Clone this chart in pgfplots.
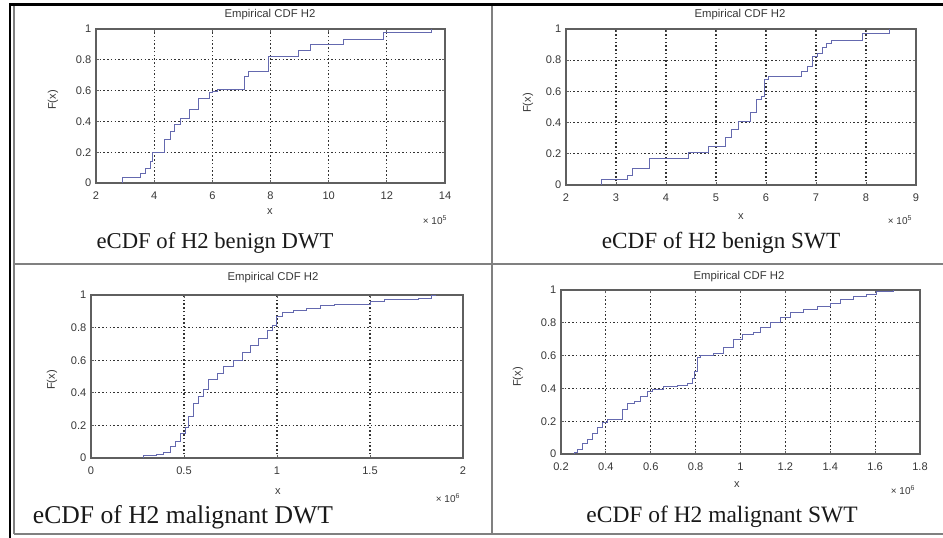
\documentclass[border=0pt]{standalone}
\usepackage{pgfplots}
\pgfplotsset{compat=1.18}
\usepackage{fontspec}
\setmainfont{Liberation Sans}
\newfontfamily\capfont{Liberation Serif}

\definecolor{cdfline}{RGB}{100,105,175}
\definecolor{framegray}{RGB}{95,95,95}
\definecolor{txtgray}{RGB}{55,55,55}

\pgfplotsset{ecdf/.style={
  scale only axis, anchor=south west,
  ymin=0, ymax=1, ytick={0,0.2,0.4,0.6,0.8,1},
  grid=major,
  major grid style={black!80, line width=0.85pt, dash pattern=on 1.1pt off 1.7pt},
  axis line style={framegray, line width=1pt},
  tick align=inside, major tick length=2.5pt,
  tick style={framegray, line width=0.6pt},
  ticklabel style={font=\fontsize{8.3}{9}\selectfont, text=txtgray},
  /pgf/number format/assume math mode=true,
  xticklabel style={yshift=-3pt},
  scaled ticks=false,
},
ecdfline/.style={cdfline, line width=0.75pt, const plot, mark=none}}

\begin{document}
\begin{tikzpicture}
\path[use as bounding box] (0pt,0pt) rectangle (707.25pt,403.5pt);

% table frame
\draw[black!50, line width=1.5pt] (10.5pt,3pt) -- (10.5pt,399pt);
\draw[black!50, line width=1.5pt] (10.5pt,3pt) -- (707.25pt,3pt);
\draw[black!50, line width=1.5pt] (369pt,3pt) -- (369pt,399pt);
\draw[black!50, line width=1.5pt] (10.5pt,205.5pt) -- (707.25pt,205.5pt);
\draw[black, line width=1.5pt] (7.5pt,0pt) -- (7.5pt,401pt);
\draw[black, line width=2.25pt] (6.75pt,400.1pt) -- (707.25pt,400.1pt);

% Panel 1: benign DWT
\begin{axis}[ecdf, at={(72pt,266.25pt)}, width=261.75pt, height=115.5pt,
  xmin=2, xmax=14, xtick={2,4,6,8,10,12,14}]
\addplot[ecdfline] coordinates {
(2.91,0) (2.91,0.035) (3.54,0.063) (3.71,0.096) (3.86,0.139) (3.94,0.2)
(4.34,0.28) (4.57,0.335) (4.69,0.38) (4.91,0.42) (5.2,0.48) (5.54,0.55)
(5.89,0.585) (6.0,0.596) (6.17,0.607) (7.09,0.69) (7.26,0.726) (7.94,0.824)
(8.97,0.86) (9.37,0.9) (10.51,0.933) (11.89,0.976) (13.54,1.0)
};
\end{axis}

% Panel 2: benign SWT
\begin{axis}[ecdf, at={(424.5pt,264.75pt)}, width=262.5pt, height=117pt,
  xmin=2, xmax=9, xtick={2,3,4,5,6,7,8,9}]
\addplot[ecdfline] coordinates {
(2.70,0) (2.70,0.038) (3.23,0.063) (3.32,0.105) (3.66,0.173) (4.45,0.206)
(4.85,0.246) (5.18,0.305) (5.31,0.358) (5.44,0.41) (5.68,0.463) (5.81,0.547)
(5.91,0.568) (5.97,0.674) (6.04,0.695) (6.70,0.726) (6.83,0.758) (6.93,0.821)
(7.03,0.842) (7.13,0.884) (7.20,0.905) (7.30,0.926) (7.93,0.968) (8.46,1.0)
};
\end{axis}

% Panel 3: malignant DWT
\begin{axis}[ecdf, at={(68.25pt,60pt)}, width=279pt, height=122.25pt,
  xmin=0, xmax=2, xtick={0,0.5,1,1.5,2}]
\addplot[ecdfline] coordinates {
(0.282,0) (0.282,0.015) (0.354,0.02) (0.39,0.035) (0.426,0.07) (0.453,0.10)
(0.48,0.15) (0.507,0.19) (0.525,0.255) (0.552,0.337) (0.579,0.38) (0.606,0.42)
(0.633,0.48) (0.678,0.52) (0.714,0.56) (0.768,0.60) (0.813,0.65) (0.858,0.69)
(0.903,0.735) (0.948,0.785) (0.975,0.815) (0.998,0.87) (1.03,0.89) (1.09,0.905)
(1.16,0.92) (1.235,0.935) (1.31,0.94) (1.505,0.96) (1.58,0.97) (1.76,0.98)
(1.83,0.995) (1.85,1.0)
};
\end{axis}

% Panel 4: malignant SWT
\begin{axis}[ecdf, at={(420.75pt,63pt)}, width=269.25pt, height=123pt,
  xmin=0.2, xmax=1.8, xtick={0.2,0.4,0.6,0.8,1,1.2,1.4,1.6,1.8}]
\addplot[ecdfline] coordinates {
(0.259,0) (0.259,0.01) (0.274,0.026) (0.296,0.067) (0.319,0.087) (0.341,0.128)
(0.363,0.159) (0.385,0.19) (0.407,0.21) (0.452,0.213) (0.474,0.27) (0.496,0.31)
(0.526,0.32) (0.556,0.35) (0.585,0.38) (0.607,0.395) (0.659,0.41) (0.719,0.42)
(0.763,0.43) (0.785,0.46) (0.796,0.50) (0.807,0.59) (0.822,0.60) (0.881,0.615)
(0.926,0.65) (0.97,0.70) (1.007,0.73) (1.059,0.74) (1.089,0.77) (1.133,0.80)
(1.178,0.83) (1.222,0.86) (1.281,0.88) (1.341,0.90) (1.4,0.92) (1.444,0.945)
(1.504,0.96) (1.563,0.97) (1.607,0.988) (1.681,1.0)
};
\end{axis}

% texts
\begin{scope}[every node/.style={text=txtgray, inner sep=0pt}]
\node[font=\fontsize{8.5}{9}\selectfont] at (202.5pt,392.25pt) {Empirical CDF H2};
\node[font=\fontsize{8.5}{9}\selectfont] at (555pt,392.25pt) {Empirical CDF H2};
\node[font=\fontsize{8.5}{9}\selectfont] at (204.75pt,195pt) {Empirical CDF H2};
\node[font=\fontsize{8.5}{9}\selectfont] at (554.25pt,195.75pt) {Empirical CDF H2};

\node[font=\fontsize{8.3}{9}\selectfont] at (202.5pt,244.5pt) {x};
\node[font=\fontsize{8.3}{9}\selectfont] at (555.75pt,240.75pt) {x};
\node[font=\fontsize{8.3}{9}\selectfont] at (208.5pt,34.5pt) {x};
\node[font=\fontsize{8.3}{9}\selectfont] at (552.75pt,39.75pt) {x};

\node[font=\fontsize{8.3}{9}\selectfont, rotate=90] at (39.75pt,328.5pt) {F(x)};
\node[font=\fontsize{8.3}{9}\selectfont, rotate=90] at (396pt,326.25pt) {F(x)};
\node[font=\fontsize{8.3}{9}\selectfont, rotate=90] at (39pt,118.5pt) {F(x)};
\node[font=\fontsize{8.3}{9}\selectfont, rotate=90] at (388.5pt,120.75pt) {F(x)};

\node[font=\fontsize{7.5}{8}\selectfont] at (326.25pt,238.5pt) {× 10\textsuperscript{5}};
\node[font=\fontsize{7.5}{8}\selectfont] at (675pt,238.5pt) {× 10\textsuperscript{5}};
\node[font=\fontsize{7.5}{8}\selectfont] at (336pt,30pt) {× 10\textsuperscript{6}};
\node[font=\fontsize{7.5}{8}\selectfont] at (677.25pt,36pt) {× 10\textsuperscript{6}};
\end{scope}

\begin{scope}[every node/.style={text=black!90, inner sep=0pt}]
\node[font=\capfont\fontsize{17}{19}\selectfont] at (161.25pt,221.25pt) {eCDF of H2 benign DWT};
\node[font=\capfont\fontsize{17.4}{19}\selectfont] at (540.75pt,221.25pt) {eCDF of H2 benign SWT};
\node[font=\capfont\fontsize{19.2}{21}\selectfont] at (137.25pt,15.75pt) {eCDF of H2 malignant DWT};
\node[font=\capfont\fontsize{17.6}{19}\selectfont] at (541.5pt,15.75pt) {eCDF of H2 malignant SWT};
\end{scope}
\end{tikzpicture}
\end{document}
